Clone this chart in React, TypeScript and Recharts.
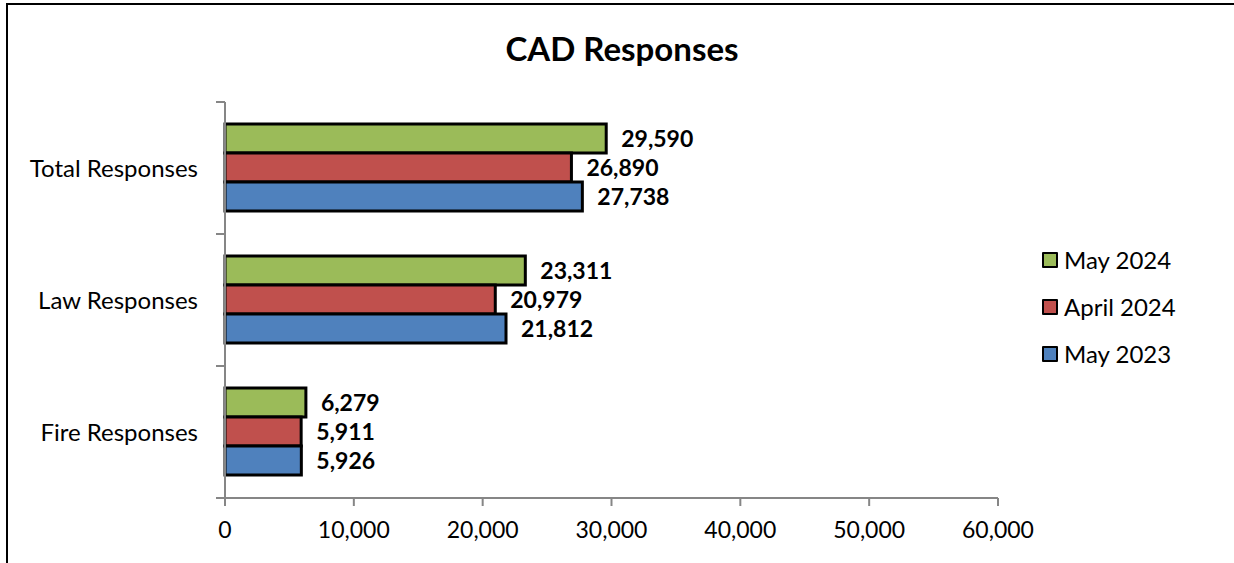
import React from 'react';
import { BarChart, Bar, XAxis, YAxis, Legend, LabelList } from 'recharts';

const categories = ['Total Responses', 'Law Responses', 'Fire Responses'];
const may2024 = [29590, 23311, 6279];
const april2024 = [26890, 20979, 5911];
const may2023 = [27738, 21812, 5926];
const xTicks = [0, 10000, 20000, 30000, 40000, 50000, 60000];

const seriesInfo = [
  { key: 'may2024', name: 'May 2024', color: '#9BBB59' },
  { key: 'april2024', name: 'April 2024', color: '#C0504D' },
  { key: 'may2023', name: 'May 2023', color: '#4F81BD' },
];

const data = categories.map((name, i) => ({
  name,
  may2024: may2024[i],
  april2024: april2024[i],
  may2023: may2023[i],
}));

const FONT = 'Lato, Carlito, Calibri, "Open Sans", sans-serif';
const AXIS_GRAY = '#868686';
const fmt = (v: any) => Number(v).toLocaleString('en-US');
const TICK_MARGIN = 27;
const TICK_LEN = 9;

const CategoryTick = (props: any) => {
  const { x, y, payload, index, visibleTicksCount } = props;
  const half = payload && payload.offset ? payload.offset : 0;
  const axisX = x + TICK_MARGIN;
  const isLast = visibleTicksCount != null ? index === visibleTicksCount - 1 : false;
  return (
    <g>
      <line x1={axisX - TICK_LEN} x2={axisX} y1={y - half} y2={y - half} stroke={AXIS_GRAY} strokeWidth={2} />
      {isLast && (
        <line x1={axisX - TICK_LEN} x2={axisX} y1={y + half} y2={y + half} stroke={AXIS_GRAY} strokeWidth={2} />
      )}
      <text x={x} y={y} dy="0.355em" textAnchor="end" fill="#000" fontSize={24} fontFamily={FONT}>
        {payload.value}
      </text>
    </g>
  );
};

const LegendContent = (props: any) => {
  const payload = props.payload || [];
  const ordered = seriesInfo
    .map((s) => payload.find((p: any) => p.value === s.name || p.dataKey === s.key))
    .filter(Boolean);
  return (
    <div style={{ fontFamily: FONT }}>
      {ordered.map((p: any) => (
        <div key={p.value} style={{ display: 'flex', alignItems: 'center', height: 47 }}>
          <span
            style={{
              display: 'inline-block',
              width: 12,
              height: 12,
              background: p.color,
              border: '2.5px solid #000',
              borderRadius: 1,
              marginRight: 6,
            }}
          />
          <span style={{ fontSize: 24, color: '#000' }}>{p.value}</span>
        </div>
      ))}
    </div>
  );
};

export default function App() {
  return (
    <div
      style={{
        position: 'absolute',
        left: 0,
        top: 0,
        width: 1234,
        height: 563,
        overflow: 'hidden',
        background: '#fff',
        fontFamily: FONT,
      }}
    >
      <div
        style={{
          position: 'absolute',
          left: 6,
          top: 3,
          width: 1300,
          height: 700,
          border: '2px solid #000',
        }}
      />
      <div
        style={{
          position: 'absolute',
          left: 0,
          width: 1244,
          top: 26,
          textAlign: 'center',
          fontSize: 33,
          fontWeight: 'bold',
          color: '#000',
          lineHeight: '44px',
        }}
      >
        CAD Responses
      </div>
      <div style={{ position: 'absolute', left: 0, top: 0 }}>
        <BarChart
          width={1234}
          height={563}
          data={data}
          layout="vertical"
          margin={{ top: 102, right: 236, bottom: 15, left: 25 }}
          barCategoryGap={22}
          barGap={0}
        >
          <XAxis
            type="number"
            domain={[0, 60000]}
            ticks={xTicks}
            tickFormatter={fmt}
            height={50}
            tickSize={8}
            tickMargin={16}
            axisLine={{ stroke: AXIS_GRAY, strokeWidth: 2 }}
            tickLine={{ stroke: AXIS_GRAY, strokeWidth: 2 }}
            tick={{ fill: '#000', fontSize: 23, fontFamily: FONT }}
            interval={0}
          />
          <YAxis
            type="category"
            dataKey="name"
            width={200}
            tickSize={0}
            tickMargin={TICK_MARGIN}
            axisLine={{ stroke: AXIS_GRAY, strokeWidth: 2 }}
            tickLine={false}
            tick={<CategoryTick />}
            interval={0}
          />
          <Legend
            layout="horizontal"
            verticalAlign="middle"
            align="center"
            itemSorter={null as any}
            content={<LegendContent />}
            wrapperStyle={{ position: 'absolute', left: 1042, top: 236, width: 'auto' }}
          />
          {seriesInfo.map((s) => (
            <Bar
              key={s.key}
              dataKey={s.key}
              name={s.name}
              fill={s.color}
              stroke="#000"
              strokeWidth={3}
              isAnimationActive={false}
            >
              <LabelList
                dataKey={s.key}
                position="right"
                offset={15}
                formatter={fmt}
                style={{ fontWeight: 'bold', fontSize: 23, fill: '#000', fontFamily: FONT }}
              />
            </Bar>
          ))}
        </BarChart>
      </div>
    </div>
  );
}
